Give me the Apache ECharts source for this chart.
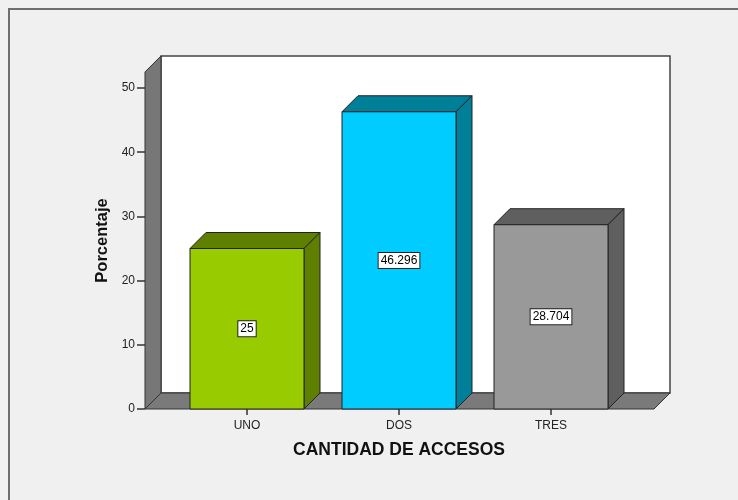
<!DOCTYPE html>
<html>
<head>
<meta charset="utf-8">
<script src="https://cdn.jsdelivr.net/npm/echarts@6/dist/echarts.min.js"></script>
<style>
  html, body { margin: 0; padding: 0; background: #f0f0f0; }
  #chart { width: 738px; height: 500px; }
</style>
</head>
<body>
<div id="chart"></div>
<script>
// datos del gráfico
const categories = ["UNO", "DOS", "TRES"]
const percentages = [25, 46.296, 28.704]
const yTicks = { min: 0, max: 50, interval: 10 }
const wallTop = 52.5

// colores de cara frontal / cara oscura
const frontColors = ["#99cc00", "#00ccff", "#999999"]
const shadeColors = ["#5f7f00", "#007f99", "#5f5f5f"]

const FONT = "Arial, 'Liberation Sans', sans-serif"
const DEPTH = 16
const PAD_L = 26
const PAD_R = 27

const chart = echarts.init(document.getElementById("chart"))

const renderWalls = (params, api) => {
  const g = params.coordSys
  const L = g.x - PAD_L
  const R = g.x + g.width + PAD_R
  const T = api.coord([0, wallTop])[1]
  const B = api.coord([0, 0])[1]
  const stroke = { stroke: "#333", lineWidth: 1 }
  return {
    type: "group",
    children: [
      {
        type: "rect",
        shape: { x: L + DEPTH, y: T - DEPTH, width: R - L, height: B - T },
        style: { fill: "#fff", stroke: "#444", lineWidth: 1.5 }
      },
      {
        type: "polygon",
        shape: { points: [[L, B], [L, T], [L + DEPTH, T - DEPTH], [L + DEPTH, B - DEPTH]] },
        style: Object.assign({ fill: "#777" }, stroke)
      },
      {
        type: "polygon",
        shape: { points: [[L, B], [L + DEPTH, B - DEPTH], [R + DEPTH, B - DEPTH], [R, B]] },
        style: Object.assign({ fill: "#7a7a7a" }, stroke)
      }
    ]
  }
}

const renderBar = (params, api) => {
  const idx = api.value(0)
  const val = api.value(1)
  const base = api.coord([idx, 0])
  const top = api.coord([idx, val])
  const mid = api.coord([idx, val / 2])
  const w = api.size([1, 0])[0] * 0.75
  const x0 = base[0] - w / 2
  const x1 = base[0] + w / 2
  const yb = base[1]
  const yt = top[1]
  const stroke = { stroke: "#222", lineWidth: 1 }
  return {
    type: "group",
    children: [
      {
        type: "polygon",
        shape: { points: [[x0, yt], [x0 + DEPTH, yt - DEPTH], [x1 + DEPTH, yt - DEPTH], [x1, yt]] },
        style: Object.assign({ fill: shadeColors[idx] }, stroke)
      },
      {
        type: "polygon",
        shape: { points: [[x1, yt], [x1 + DEPTH, yt - DEPTH], [x1 + DEPTH, yb - DEPTH], [x1, yb]] },
        style: Object.assign({ fill: shadeColors[idx] }, stroke)
      },
      {
        type: "rect",
        shape: { x: x0, y: yt, width: w, height: yb - yt },
        style: Object.assign({ fill: frontColors[idx] }, stroke)
      },
      {
        type: "text",
        x: mid[0],
        y: mid[1],
        style: {
          text: String(percentages[idx]),
          align: "center",
          verticalAlign: "middle",
          font: "12px " + FONT,
          fill: "#000",
          backgroundColor: "#fff",
          borderColor: "#222",
          borderWidth: 1,
          padding: [2, 2, 1, 2]
        }
      }
    ]
  }
}

chart.setOption({
  backgroundColor: "#f0f0f0",
  animation: false,
  graphic: [
    {
      type: "rect",
      left: 8,
      top: 8,
      shape: { width: 800, height: 600 },
      style: { fill: "#f0f0f0", stroke: "#6e6e6e", lineWidth: 2 },
      z: -10
    }
  ],
  grid: { left: 171, right: 111, top: 88, bottom: 91 },
  xAxis: {
    type: "category",
    data: categories,
    name: "CANTIDAD DE ACCESOS",
    nameLocation: "middle",
    nameGap: 32,
    nameTextStyle: { fontFamily: FONT, fontSize: 17.5, fontWeight: "bold", color: "#111" },
    axisLine: { show: false },
    axisTick: { show: true, alignWithLabel: true, length: 6, lineStyle: { color: "#333", width: 1.5 } },
    axisLabel: { margin: 11, fontFamily: FONT, fontSize: 12, color: "#222" },
    splitLine: { show: false }
  },
  yAxis: {
    type: "value",
    min: yTicks.min,
    max: yTicks.max,
    interval: yTicks.interval,
    offset: PAD_L,
    name: "Porcentaje",
    nameLocation: "middle",
    nameGap: 29,
    nameTextStyle: {
      fontFamily: FONT,
      fontSize: 16.5,
      fontWeight: "bold",
      color: "#111",
      padding: [0, 0, 0, 16]
    },
    axisLine: { show: false },
    axisTick: { show: true, length: 8, lineStyle: { color: "#333", width: 1.5 } },
    axisLabel: { margin: 10, fontFamily: FONT, fontSize: 12, color: "#222" },
    splitLine: { show: false }
  },
  series: [
    {
      type: "custom",
      renderItem: renderWalls,
      data: [[0, 0]],
      z: 1,
      silent: true
    },
    {
      type: "custom",
      renderItem: renderBar,
      data: percentages.map((v, i) => [i, v]),
      z: 2
    }
  ]
})

window.addEventListener("resize", () => chart.resize())
</script>
</body>
</html>
